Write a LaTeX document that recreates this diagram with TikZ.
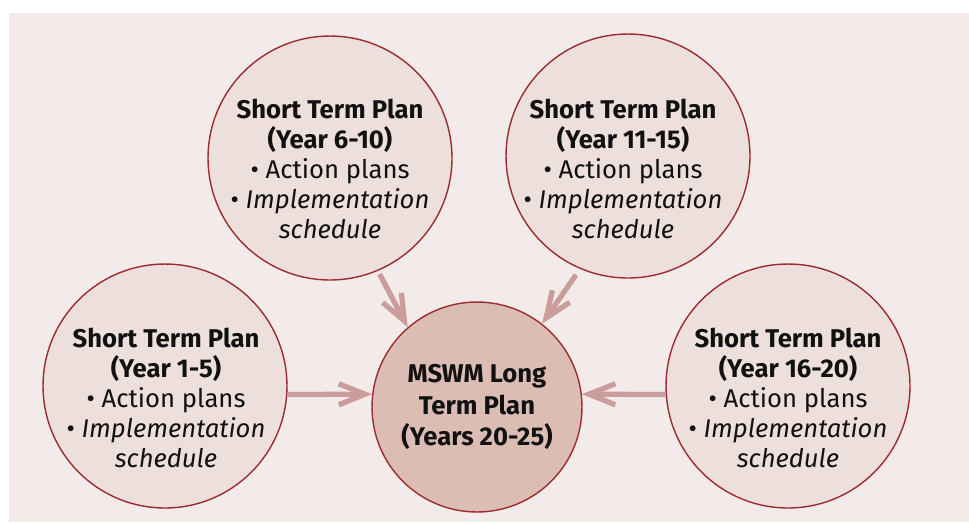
\documentclass[tikz,border=0pt]{standalone}
\usepackage{fontspec}
\setmainfont{Fira Sans}
\usetikzlibrary{arrows.meta}
\usepackage{xcolor}
\definecolor{Panel}{HTML}{F3EBE9}
\definecolor{SoftRose}{HTML}{ECDFDC}
\definecolor{DeepRose}{HTML}{DCBDB4}
\definecolor{Rim}{HTML}{9B2D30}
\definecolor{Flow}{HTML}{CA9C9B}
\definecolor{Ink}{HTML}{111111}
\tikzset{
 plan/.style={circle, draw=Rim, line width=0.8pt, fill=SoftRose, minimum size=4.88cm, inner sep=0pt},
 goal/.style={plan, fill=DeepRose, minimum size=4.2cm},
 plantext/.style={align=center, text=Ink, font=\fontsize{14.6}{17}\selectfont},
 flow/.style={-{Straight Barb[length=15pt,width=12pt]}, line width=3pt, draw=Flow}
}

\begin{document}
\begin{tikzpicture}[x=0.02cm,y=-0.02cm]
\useasboundingbox (0,0) rectangle (969,522);
\fill[Panel] (9,13) rectangle (969,522);
\node[plan] (p2) at (330,158) {};
\node[plan] (p3) at (628,156) {};
\node[plan] (p1) at (165,386) {};
\node[plan] (p4) at (788,386) {};
\node[goal] (mswm) at (477,407) {};
\node[plantext] (t2) at (330,169) {\textbf{Short Term Plan}\\\textbf{(Year 6-10)}\\• Action plans\\• \textit{Implementation}\\\textit{schedule}};
\node[plantext] (t3) at (623,169) {\textbf{Short Term Plan}\\\textbf{(Year 11-15)}\\• Action plans\\• \textit{Implementation}\\\textit{schedule}};
\node[plantext] (t1) at (166,398) {\textbf{Short Term Plan}\\\textbf{(Year 1-5)}\\• Action plans\\• \textit{Implementation}\\\textit{schedule}};
\node[plantext] (t4) at (788,398) {\textbf{Short Term Plan}\\\textbf{(Year 16-20)}\\• Action plans\\• \textit{Implementation}\\\textit{schedule}};
\node[plantext, font=\fontsize{14.6}{18}\selectfont\bfseries] (tm) at (mswm) {MSWM Long\\Term Plan\\(Years 20-25)};
\draw[flow] (p1.-4) -- (mswm.173);
\draw[flow] (p4.184) -- (mswm.7);
\draw[flow, shorten <=2pt] (p2.-67) -- (mswm.131);
\draw[flow, shorten <=4pt] (p3.-113) -- (mswm.52);
\end{tikzpicture}
\end{document}
